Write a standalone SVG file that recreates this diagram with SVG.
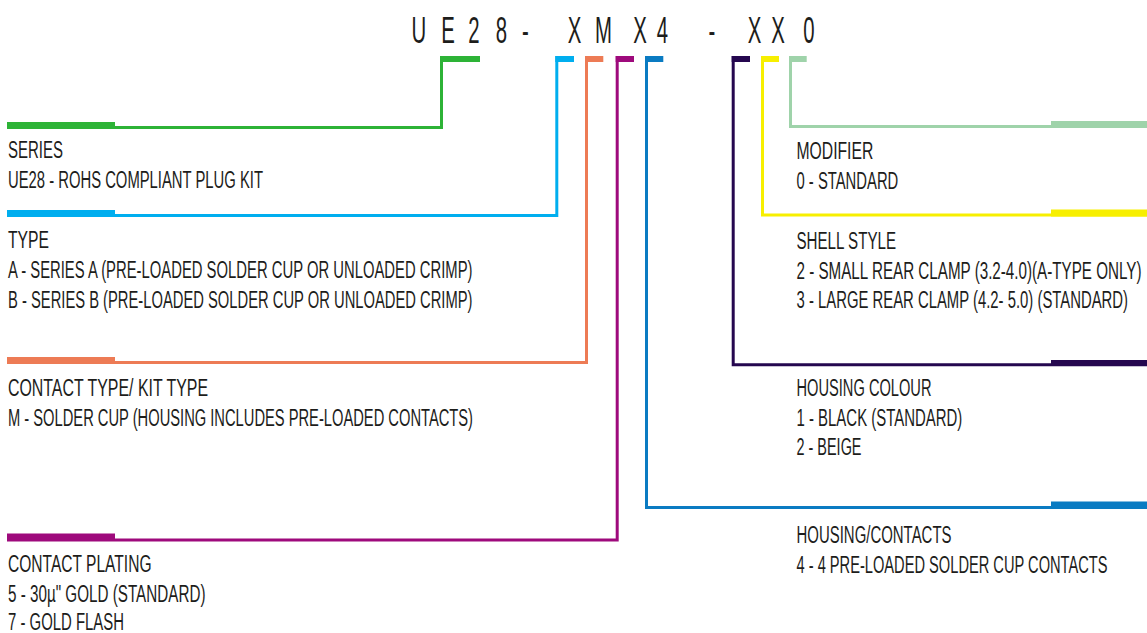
<svg xmlns="http://www.w3.org/2000/svg" width="1147" height="633" viewBox="0 0 1147 633">
<style>
.t{font-family:"Liberation Sans",Arial,sans-serif;font-size:23.5px;fill:#1d1d1b;}
.title{font-family:"Liberation Sans",Arial,sans-serif;font-size:37px;fill:#1d1d1b;text-anchor:middle;}
.ln{fill:none;stroke-width:3;stroke-linejoin:miter;stroke-linecap:butt;}
</style>
<rect width="1147" height="633" fill="#ffffff"/>
<g id="title">
<text class="title" transform="scale(0.55,1)" y="43"><tspan x="766.9">U</tspan> <tspan x="819.6">E</tspan> <tspan x="866.9">2</tspan> <tspan x="916.9">8</tspan> <tspan x="960.6">-</tspan> <tspan x="1049.6">X</tspan> <tspan x="1102.4">M</tspan> <tspan x="1168.7">X</tspan> <tspan x="1209.6">4</tspan> <tspan x="1299.6">-</tspan> <tspan x="1376.9">X</tspan> <tspan x="1419.6">X</tspan> <tspan x="1470.9">0</tspan></text>
</g>
<g id="connectors">
<!-- series (green) -->
<rect x="440" y="56" width="40" height="6" fill="#2db336"/>
<path class="ln" stroke="#2db336" d="M441.5 56 V127.5 H7"/>
<rect x="7" y="122" width="108" height="7" fill="#2db336"/>
<!-- type (cyan) -->
<rect x="555.3" y="56" width="18.7" height="6" fill="#00aeef"/>
<path class="ln" stroke="#00aeef" d="M556.8 56 V215.5 H7"/>
<rect x="7" y="210" width="108" height="7" fill="#00aeef"/>
<!-- contact type (orange) -->
<rect x="585" y="56" width="18.3" height="6" fill="#ed7b55"/>
<path class="ln" stroke="#ed7b55" d="M586.5 56 V362.5 H7"/>
<rect x="7" y="357" width="108" height="7" fill="#ed7b55"/>
<!-- contact plating (magenta) -->
<rect x="615.7" y="56" width="18.3" height="6" fill="#9e0a7c"/>
<path class="ln" stroke="#9e0a7c" d="M617.2 56 V540 H7"/>
<rect x="7" y="533.5" width="108" height="7.5" fill="#9e0a7c"/>
<!-- housing/contacts (blue) -->
<rect x="645" y="56" width="18.3" height="6" fill="#0a7bc2"/>
<path class="ln" stroke="#0a7bc2" d="M646.5 56 V507.5 H1147"/>
<rect x="1051" y="501.5" width="96" height="7.5" fill="#0a7bc2"/>
<!-- housing colour (dark purple) -->
<rect x="731.7" y="56" width="18.3" height="6" fill="#25074f"/>
<path class="ln" stroke="#25074f" d="M733.2 56 V364.8 H1147"/>
<rect x="1051" y="360" width="96" height="6" fill="#25074f"/>
<!-- shell style (yellow) -->
<rect x="761" y="56" width="18" height="6" fill="#f7ef00"/>
<path class="ln" stroke="#f7ef00" d="M762.5 56 V215 H1147"/>
<rect x="1051" y="209.5" width="96" height="7" fill="#f7ef00"/>
<!-- modifier (light green) -->
<rect x="789" y="56" width="17.7" height="6" fill="#9fd3aa"/>
<path class="ln" stroke="#9fd3aa" d="M790.5 56 V126.5 H1147"/>
<rect x="1051" y="121" width="96" height="7" fill="#9fd3aa"/>
</g>
<g id="series">
<text class="t" x="8" y="158" textLength="55" lengthAdjust="spacingAndGlyphs">SERIES</text>
<text class="t" x="8" y="188" textLength="255" lengthAdjust="spacingAndGlyphs">UE28 - ROHS COMPLIANT PLUG KIT</text>
</g>
<g id="type">
<text class="t" x="8" y="248" textLength="41" lengthAdjust="spacingAndGlyphs">TYPE</text>
<text class="t" x="8" y="278" textLength="464.5" lengthAdjust="spacingAndGlyphs">A - SERIES A (PRE-LOADED SOLDER CUP OR UNLOADED CRIMP)</text>
<text class="t" x="8" y="308" textLength="464.5" lengthAdjust="spacingAndGlyphs">B - SERIES B (PRE-LOADED SOLDER CUP OR UNLOADED CRIMP)</text>
</g>
<g id="contact-type">
<text class="t" x="8" y="396" textLength="200" lengthAdjust="spacingAndGlyphs">CONTACT TYPE/ KIT TYPE</text>
<text class="t" x="8" y="426" textLength="465" lengthAdjust="spacingAndGlyphs">M - SOLDER CUP (HOUSING INCLUDES PRE-LOADED CONTACTS)</text>
</g>
<g id="contact-plating">
<text class="t" x="8" y="572" textLength="143.5" lengthAdjust="spacingAndGlyphs">CONTACT PLATING</text>
<text class="t" x="8" y="601.5" textLength="197.5" lengthAdjust="spacingAndGlyphs">5 - 30µ" GOLD (STANDARD)</text>
<text class="t" x="8" y="630" textLength="116" lengthAdjust="spacingAndGlyphs">7 - GOLD FLASH</text>
</g>
<g id="modifier">
<text class="t" x="796.5" y="159" textLength="76.8" lengthAdjust="spacingAndGlyphs">MODIFIER</text>
<text class="t" x="796.5" y="189" textLength="101.8" lengthAdjust="spacingAndGlyphs">0 - STANDARD</text>
</g>
<g id="shell-style">
<text class="t" x="796.5" y="249" textLength="99.5" lengthAdjust="spacingAndGlyphs">SHELL STYLE</text>
<text class="t" x="796.5" y="278.5" textLength="345" lengthAdjust="spacingAndGlyphs">2 - SMALL REAR CLAMP (3.2-4.0)(A-TYPE ONLY)</text>
<text class="t" x="796.5" y="308" textLength="331.5" lengthAdjust="spacingAndGlyphs">3 - LARGE REAR CLAMP (4.2- 5.0) (STANDARD)</text>
</g>
<g id="housing-colour">
<text class="t" x="796.5" y="396" textLength="135" lengthAdjust="spacingAndGlyphs">HOUSING COLOUR</text>
<text class="t" x="796.5" y="425.5" textLength="165.8" lengthAdjust="spacingAndGlyphs">1 - BLACK (STANDARD)</text>
<text class="t" x="796.5" y="454.5" textLength="65" lengthAdjust="spacingAndGlyphs">2 - BEIGE</text>
</g>
<g id="housing-contacts">
<text class="t" x="796.5" y="543" textLength="155" lengthAdjust="spacingAndGlyphs">HOUSING/CONTACTS</text>
<text class="t" x="796.5" y="572.5" textLength="311" lengthAdjust="spacingAndGlyphs">4 - 4 PRE-LOADED SOLDER CUP CONTACTS</text>
</g>
</svg>
